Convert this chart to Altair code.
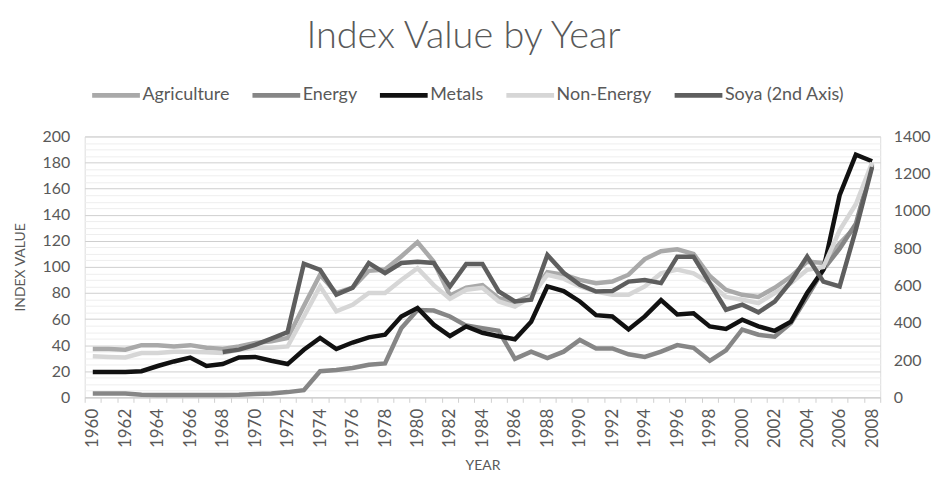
import altair as alt
import pandas as pd

years = list(range(1960, 2009))

agriculture = [37, 37, 36.5, 40, 40, 39, 40, 38, 37, 39, 41.6, 43, 45.5, 70, 94, 80, 84, 97, 98, 108,
               119, 104, 78, 84, 86, 76, 73, 78, 96, 94, 90, 87.5, 88.8, 94, 106, 112, 113.5, 110, 93, 82.4,
               78.6, 77, 84, 92.6, 104, 103, 118, 131, 179]
energy = [3, 3, 3, 2, 1.8, 1.8, 1.8, 1.8, 1.8, 2, 2.5, 3, 4, 5.5, 20, 21, 22.5, 25, 26, 53,
          67, 66.5, 62, 55, 53, 51, 29.5, 35, 30, 35, 44, 37.5, 37.5, 33, 31, 35, 40, 38, 28, 36,
          52, 48, 46.5, 57, 77, 98, 114, 133, 178]
metals = [19.5, 19.5, 19.5, 20, 24, 27.5, 30.5, 24, 25.5, 30.5, 31, 28, 25.5, 36.5, 45.5, 37, 42, 46, 48, 62,
          68.5, 55.7, 47, 54.4, 49.5, 46.8, 44.5, 58, 85, 81.5, 73.5, 63, 62, 52, 62, 74.5, 63.5, 64.5, 54.4, 52.5,
          59.5, 54.4, 51, 58, 80, 98, 155, 186, 181]
non_energy = [31.5, 31, 30.6, 34, 34, 35, 35, 34.5, 34, 36.5, 38, 38, 39, 62, 85, 66, 71, 80, 80, 90,
              99, 86, 75.5, 82.5, 84, 73.5, 69.5, 77, 94, 91, 85, 81, 78.6, 78.6, 85, 95, 98, 95, 87.5, 77,
              74.8, 72.3, 80, 87.5, 97.7, 100, 128, 148, 180]
soya_years = list(range(1968, 2009))
soya = [243, 256, 282, 315, 350, 717, 684, 551, 588, 721, 667, 721, 728, 721, 595, 716, 716, 568, 515, 524,
        764, 668, 604, 568, 570, 621, 629, 613, 755, 755, 613, 470, 497, 456, 514, 621, 755, 621, 595, 900, 1236]

series_names = ["Agriculture", "Energy", "Metals", "Non-Energy", "Soya (2nd Axis)"]
series_colors = ["#a9a9a9", "#868686", "#111111", "#d6d6d6", "#5e5e5e"]

left_ticks = list(range(0, 201, 5))
right_ticks = list(range(0, 1401, 200))
label_years = list(range(1960, 2009, 2))
tick_years = [y - 0.5 for y in range(1960, 2010)]

rows = []
for name, vals in zip(series_names[:4], [agriculture, energy, metals, non_energy]):
    for yr, v in zip(years, vals):
        rows.append({"year": yr, "value": v, "series": name})
df_main = pd.DataFrame(rows)
df_soya = pd.DataFrame({"year": soya_years, "value": soya, "series": series_names[4]})

FONT = "Lato"
TXT = "#595959"

xscale = alt.Scale(domain=[1959.5, 2008.5], nice=False, zero=False)
color = alt.Color(
    "series:N",
    scale=alt.Scale(domain=series_names, range=series_colors),
    sort=series_names,
    legend=alt.Legend(
        title=None, orient="none", direction="horizontal", legendX=5, legendY=-68,
        symbolType="stroke", symbolSize=2300, symbolStrokeWidth=5,
        labelFont=FONT, labelFontSize=18, labelColor=TXT, labelOffset=0,
        columnPadding=12,
    ),
)

main = alt.Chart(df_main).mark_line(strokeWidth=4.5, strokeJoin="miter").encode(
    x=alt.X("year:Q", scale=xscale,
            axis=alt.Axis(values=label_years, labelAngle=270, format="d", ticks=False,
                          domain=False, grid=False, labelPadding=11, title="YEAR",
                          titleFont=FONT, titleFontSize=14, titleFontWeight="normal",
                          titleColor=TXT, labelFont=FONT, labelFontSize=17, labelColor=TXT,
                          titlePadding=11, orient="bottom")),
    y=alt.Y("value:Q", scale=alt.Scale(domain=[0, 200], nice=False),
            axis=alt.Axis(values=left_ticks, orient="left", ticks=False, domain=False,
                          labelExpr="datum.value % 20 === 0 ? datum.label : ''",
                          gridColor={"condition": {"test": "datum.value % 20 === 0", "value": "#cfcfcf"},
                                     "value": "#eeeeee"},
                          title="INDEX VALUE", titleFont=FONT, titleFontSize=14,
                          titleFontWeight="normal", titleColor=TXT, titlePadding=15,
                          labelFont=FONT, labelFontSize=16, labelColor=TXT, labelPadding=15)),
    color=color,
)

soya_layer = alt.Chart(df_soya).mark_line(strokeWidth=4.5, strokeJoin="miter").encode(
    x=alt.X("year:Q", scale=xscale,
            axis=alt.Axis(values=tick_years, labels=False, ticks=True, tickSize=5,
                          tickColor="#d0d0d0", domain=True, domainColor="#d0d0d0",
                          grid=False, title=None, orient="bottom")),
    y=alt.Y("value:Q", scale=alt.Scale(domain=[0, 1400], nice=False),
            axis=alt.Axis(values=right_ticks, orient="right", ticks=False, domain=False,
                          grid=False, title=None, format="d", labelFont=FONT, labelFontSize=16,
                          labelColor=TXT, labelPadding=13)),
    color=alt.Color("series:N", scale=alt.Scale(domain=series_names, range=series_colors),
                    sort=series_names),
)

chart = alt.layer(main, soya_layer).resolve_scale(
    y="independent"
).resolve_axis(
    x="independent", y="independent"
).properties(
    width=799, height=262,
    padding={"left": 5, "top": 9, "right": 0, "bottom": 0},
    title=alt.TitleParams("Index Value by Year", font=FONT, fontSize=38,
                          fontWeight=300, color=TXT, offset=13, anchor="middle", dx=-19),
).configure_view(stroke=None).configure(background="white")

chart.save("out.html", embed_options={"renderer": "svg", "actions": False})
